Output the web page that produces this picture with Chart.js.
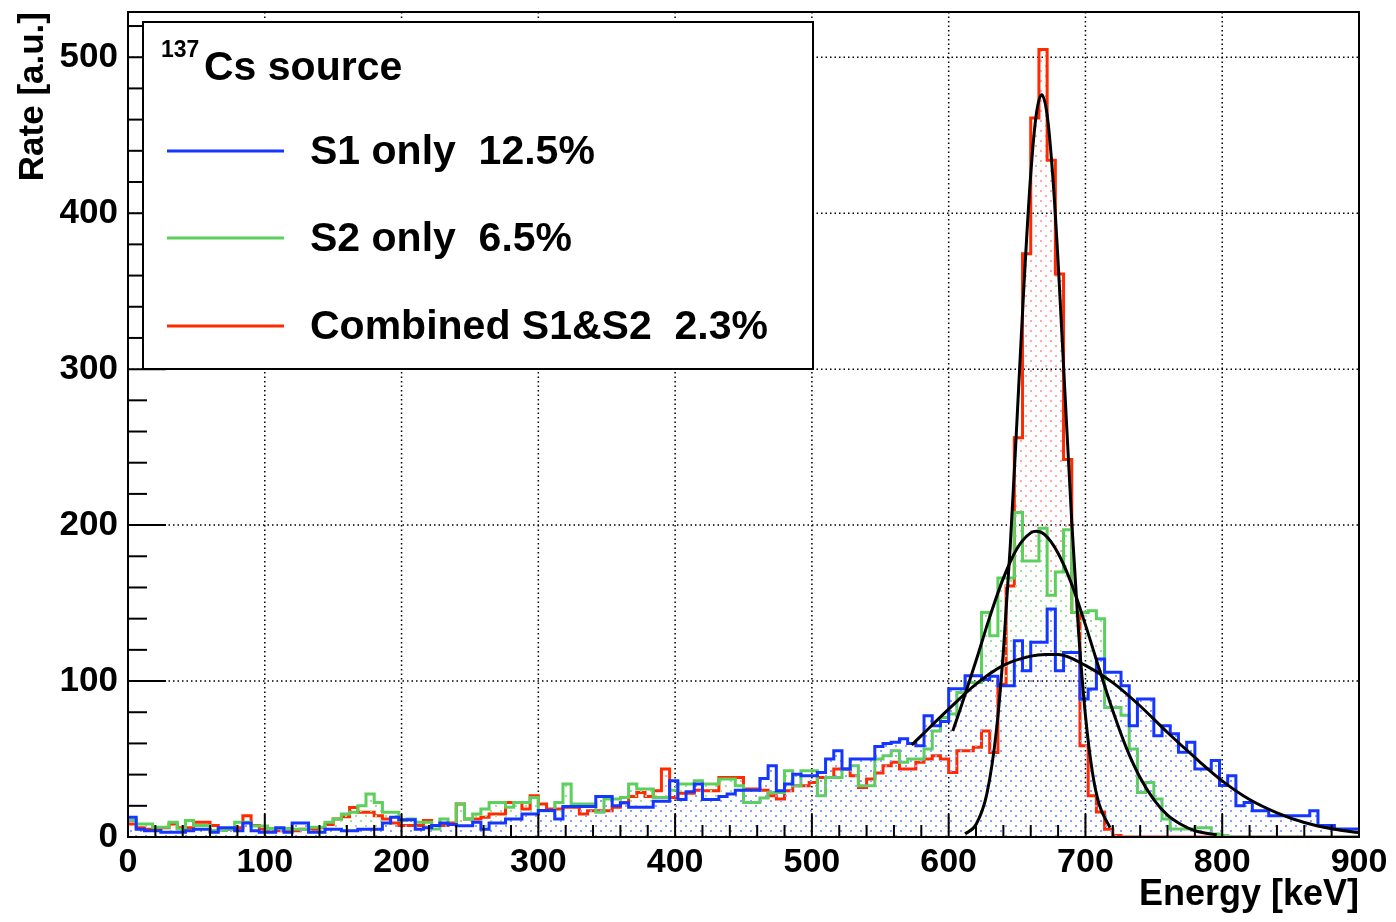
<!DOCTYPE html>
<html>
<head>
<meta charset="utf-8">
<script src="https://cdn.jsdelivr.net/npm/chart.js@4.4.1/dist/chart.umd.min.js"></script>
<style>
  html, body { margin: 0; padding: 0; background: #fff; }
  #wrap { width: 1396px; height: 922px; }
</style>
</head>
<body>
<div id="wrap"><canvas id="espectro" width="1396" height="922"></canvas></div>
<script>
// bins de 6 keV, 0 - 900 keV
const binWidth = 6;

const s1Counts = [
  12.6, 5, 4, 4, 3, 3, 3, 4, 5, 5,
  3, 6, 6, 4, 9, 4, 3, 3, 6, 3,
  9, 9, 3, 3, 5, 5, 4, 4, 5, 5,
  5, 9, 12.6, 11, 11, 5, 6, 7.3, 9, 8,
  7.2, 7.2, 9.4, 5, 9, 9, 11.5, 11.5, 14.7, 14.7,
  17, 17, 11.5, 19.5, 19.5, 19.5, 19.5, 26, 26, 20,
  22, 19, 19, 19, 23, 23, 36, 24, 29, 34,
  24, 24, 26, 27.6, 30, 30, 30, 37.5, 45.7, 29.7,
  34, 40.3, 39.3, 39.3, 41.4, 50, 55.3, 43.6, 50, 50,
  50, 58, 60, 60.7, 63, 60, 58.5, 77.8, 71.4, 74,
  95, 95, 103.4, 103.4, 101, 103, 97, 97, 125.8, 106.6,
  124.8, 124.8, 146.2, 106.6, 118.3, 118.3, 88.5, 94.9, 114.1, 105.6,
  105.6, 97, 71.4, 88.5, 88.5, 65, 71.4, 66.2, 54.3, 60.7,
  43.6, 43.6, 49, 33, 39.3, 20, 22.2, 16.9, 16.9, 13.7,
  13.7, 13.7, 13.7, 13.7, 16.9, 7.3, 7.3, 5.1, 5.1, 5.1
];

const s2Counts = [
  10.5, 8.3, 8.3, 6.2, 6.2, 9.4, 5.1, 10.5, 7.3, 7.3,
  4.1, 4.1, 5.1, 9.4, 9.4, 7, 7, 5.5, 5.5, 5.5,
  5, 5, 6.2, 6.2, 9.4, 11.5, 14.7, 15.8, 20, 27.6,
  22.2, 15.8, 15.8, 10.5, 11.5, 9.4, 9.4, 5.1, 11.5, 8,
  21.2, 11.5, 14.7, 18, 22.2, 22.2, 19, 22.2, 22.2, 25.4,
  16.9, 16.9, 22.2, 34, 21.2, 21.2, 21.2, 15.8, 24.4, 24.4,
  25.4, 34, 30.8, 30.8, 25.4, 25.4, 30, 34, 34, 36.1,
  34, 34, 37.2, 37.2, 32.9, 22.2, 22.2, 25, 28.6, 28.6,
  42.5, 32.9, 42.5, 42.5, 26.5, 38.2, 38.2, 43.6, 45.7, 32.9,
  32.9, 50, 52.1, 55.3, 47.9, 50, 50, 56.4, 68, 76.7,
  78.8, 92.7, 99, 99, 144, 129, 166, 166, 208, 177,
  177, 198, 155, 170, 197, 144, 144, 145, 140, 83,
  83, 78, 56.4, 28.6, 35, 24.4, 11.5, 5.1, 5.1, 5.1,
  6, 6, 2, 1, 0, 0, 0, 0, 0, 0,
  0, 0, 0, 0, 0, 0, 0, 0, 0, 0
];

const combinedCounts = [
  8.3, 6, 5, 5, 6, 8.3, 6, 6, 9.4, 9.4,
  7.3, 5, 5, 6, 13.6, 7.3, 5, 5, 4, 5,
  4, 5, 5, 6, 8, 11.5, 13, 18.9, 15.8, 15.8,
  13.6, 11.5, 9, 7.3, 7.3, 7.3, 10.5, 7.3, 7.3, 9,
  21.2, 11.5, 11.5, 12.6, 14.7, 14.7, 22.2, 22.2, 18, 26.5,
  21.2, 18, 18, 19, 19, 14.7, 16.9, 16.9, 16.9, 19,
  22, 26, 28.6, 26, 29.7, 43.6, 25.4, 28, 28, 30,
  29.7, 29.7, 38.2, 38.2, 38.2, 30.8, 30.8, 30, 26.5, 24.4,
  29.7, 32.9, 32.9, 35, 38.2, 38.2, 43.6, 43.6, 39.3, 31.8,
  37.2, 41, 45.7, 47.9, 43.6, 43.6, 47.9, 50, 52.1, 50,
  41.4, 55.3, 55.3, 57.5, 68, 54.2, 98, 161, 256, 374,
  461, 505, 434, 361, 242, 144, 58.5, 26.5, 16, 5,
  1, 0, 0, 0, 0, 0, 0, 0, 0, 0,
  0, 0, 0, 0, 0, 0, 0, 0, 0, 0,
  0, 0, 0, 0, 0, 0, 0, 0, 0, 0
];

// curvas de ajuste
const fitS1Energy = [573, 580, 600, 620, 640, 660, 671, 680, 700, 720, 740, 760, 780, 800, 820, 840, 860, 880, 900];
const fitS1Rate = [59, 65, 82, 98, 110, 116, 117, 117, 110, 99, 84, 67, 51, 36, 24, 15.5, 9.3, 5.3, 2.8];

const fitS2Energy = [603, 610, 620, 630, 640, 650, 660, 664, 670, 680, 690, 700, 710, 720, 730, 740, 750, 760, 770, 780, 796];
const fitS2Rate = [68, 86, 113, 141, 166, 185, 195, 196, 194, 182, 162, 136, 108, 81, 57, 38, 24, 14, 8, 4, 1.4];

const fitCombEnergy = [612, 620, 628, 635, 640, 645, 650, 655, 660, 664, 668, 672, 676, 680, 685, 690, 695, 700, 705, 710, 718];
const fitCombRate = [2, 8, 28, 69, 119, 186, 268, 353, 425, 463, 476, 463, 425, 369, 285, 202, 131, 78, 42, 21, 6];

const legendLabels = ['S1 only  12.5%', 'S2 only  6.5%', 'Combined S1&S2  2.3%'];

const azul = '#1436ff';
const verde = '#5ccf5c';
const vermelho = '#ff2a00';
const fonte = '"Liberation Sans", Arial, sans-serif';

function histPontos(counts) {
    const pts = counts.map((v, i) => ({ x: i * binWidth, y: v }));
    pts.push({ x: counts.length * binWidth, y: counts[counts.length - 1] });
    return pts;
}

function curvaPontos(xs, ys) {
    return xs.map((x, i) => ({ x: x, y: ys[i] }));
}

// padrao de pontinhos (estilo ROOT)
function padrao(cor) {
    const c = document.createElement('canvas');
    c.width = 10;
    c.height = 10;
    const p = c.getContext('2d');
    p.fillStyle = cor;
    p.fillRect(0, 0, 2, 2);
    p.fillRect(5, 5, 2, 2);
    return p.createPattern(c, 'repeat');
}

const estiloRoot = {
    id: 'estiloRoot',
    beforeDatasetsDraw(chart) {
        const { ctx, chartArea: a, scales: { x, y } } = chart;
        ctx.save();
        ctx.strokeStyle = '#000';
        ctx.lineWidth = 1.5;
        ctx.setLineDash([1.5, 3]);
        for (let e = 100; e < 900; e += 100) {
            const px = x.getPixelForValue(e);
            ctx.beginPath();
            ctx.moveTo(px, a.top);
            ctx.lineTo(px, a.bottom);
            ctx.stroke();
        }
        for (let r = 100; r <= 500; r += 100) {
            const py = y.getPixelForValue(r);
            ctx.beginPath();
            ctx.moveTo(a.left, py);
            ctx.lineTo(a.right, py);
            ctx.stroke();
        }
        ctx.restore();
    },
    afterDatasetsDraw(chart) {
        const { ctx, chartArea: a, scales: { x, y } } = chart;
        ctx.save();
        ctx.strokeStyle = '#000';
        ctx.lineWidth = 2;

        // ticks
        for (let e = 0; e <= 900; e += 20) {
            const px = x.getPixelForValue(e);
            const len = e % 100 === 0 ? 23 : 12;
            ctx.beginPath();
            ctx.moveTo(px, a.bottom);
            ctx.lineTo(px, a.bottom - len);
            ctx.stroke();
        }
        for (let r = 0; r <= 520; r += 20) {
            const py = y.getPixelForValue(r);
            const len = r % 100 === 0 ? 38 : 19;
            ctx.beginPath();
            ctx.moveTo(a.left, py);
            ctx.lineTo(a.left + len, py);
            ctx.stroke();
        }

        // moldura
        ctx.strokeRect(a.left, a.top, a.right - a.left, a.bottom - a.top);

        // legenda
        const lx = 143, ly = 22, lw = 670, lh = 347;
        ctx.fillStyle = '#fff';
        ctx.fillRect(lx, ly, lw, lh);
        ctx.strokeRect(lx, ly, lw, lh);

        ctx.fillStyle = '#000';
        ctx.textBaseline = 'alphabetic';
        ctx.textAlign = 'left';
        ctx.font = 'bold 23px ' + fonte;
        ctx.fillText('137', 161, 57);
        ctx.font = 'bold 41px ' + fonte;
        ctx.fillText('Cs source', 204, 80);

        const cores = [azul, verde, vermelho];
        const ys = [151, 238, 326];
        ctx.lineWidth = 3;
        legendLabels.forEach((t, i) => {
            ctx.strokeStyle = cores[i];
            ctx.beginPath();
            ctx.moveTo(167, ys[i]);
            ctx.lineTo(284, ys[i]);
            ctx.stroke();
            ctx.fillText(t, 310, ys[i] + 13);
        });
        ctx.restore();
    }
};

const canvas = document.getElementById('espectro');
new Chart(canvas, {
    type: 'line',
    data: {
        datasets: [
            {
                label: 'fit S1',
                data: curvaPontos(fitS1Energy, fitS1Rate),
                borderColor: '#000',
                borderWidth: 3,
                cubicInterpolationMode: 'monotone',
                pointRadius: 0,
                fill: false,
                order: 0
            },
            {
                label: 'fit S2',
                data: curvaPontos(fitS2Energy, fitS2Rate),
                borderColor: '#000',
                borderWidth: 3,
                cubicInterpolationMode: 'monotone',
                pointRadius: 0,
                fill: false,
                order: 0
            },
            {
                label: 'fit Combined',
                data: curvaPontos(fitCombEnergy, fitCombRate),
                borderColor: '#000',
                borderWidth: 3,
                cubicInterpolationMode: 'monotone',
                pointRadius: 0,
                fill: false,
                order: 0
            },
            {
                label: legendLabels[0],
                data: histPontos(s1Counts),
                stepped: 'before',
                borderColor: azul,
                borderWidth: 3,
                backgroundColor: padrao('#8f9dff'),
                fill: 'origin',
                pointRadius: 0,
                order: 1
            },
            {
                label: legendLabels[1],
                data: histPontos(s2Counts),
                stepped: 'before',
                borderColor: verde,
                borderWidth: 3,
                backgroundColor: padrao('#9fe09f'),
                fill: 'origin',
                pointRadius: 0,
                order: 2
            },
            {
                label: legendLabels[2],
                data: histPontos(combinedCounts),
                stepped: 'before',
                borderColor: vermelho,
                borderWidth: 3,
                backgroundColor: padrao('#ffa6a6'),
                fill: 'origin',
                pointRadius: 0,
                order: 3
            }
        ]
    },
    options: {
        responsive: false,
        animation: false,
        devicePixelRatio: 1,
        layout: {
            padding: { top: 12, right: 37, left: 0, bottom: 0 }
        },
        plugins: {
            legend: { display: false },
            tooltip: { enabled: false }
        },
        scales: {
            x: {
                type: 'linear',
                min: 0,
                max: 900,
                grid: { display: false, drawTicks: false },
                border: { display: false },
                ticks: {
                    stepSize: 100,
                    autoSkip: false,
                    maxRotation: 0,
                    padding: 5,
                    color: '#000',
                    font: { family: fonte, size: 34, weight: 'bold' }
                },
                title: {
                    display: true,
                    text: 'Energy [keV]',
                    align: 'end',
                    color: '#000',
                    padding: { top: 0, bottom: 5 },
                    font: { family: fonte, size: 36, weight: 'bold' }
                },
                afterFit(scale) {
                    scale.height = 85;
                    scale.paddingLeft = 0;
                    scale.paddingRight = 0;
                }
            },
            y: {
                min: 0,
                max: 529,
                grid: { display: false, drawTicks: false },
                border: { display: false },
                ticks: {
                    stepSize: 100,
                    includeBounds: false,
                    padding: 10,
                    color: '#000',
                    font: { family: fonte, size: 35, weight: 'bold' }
                },
                title: {
                    display: true,
                    text: 'Rate [a.u.]',
                    align: 'end',
                    color: '#000',
                    padding: { top: 12, bottom: 0 },
                    font: { family: fonte, size: 35, weight: 'bold' }
                },
                afterFit(scale) {
                    scale.width = 128;
                    scale.paddingTop = 0;
                    scale.paddingBottom = 0;
                }
            }
        }
    },
    plugins: [estiloRoot]
});
</script>
</body>
</html>
